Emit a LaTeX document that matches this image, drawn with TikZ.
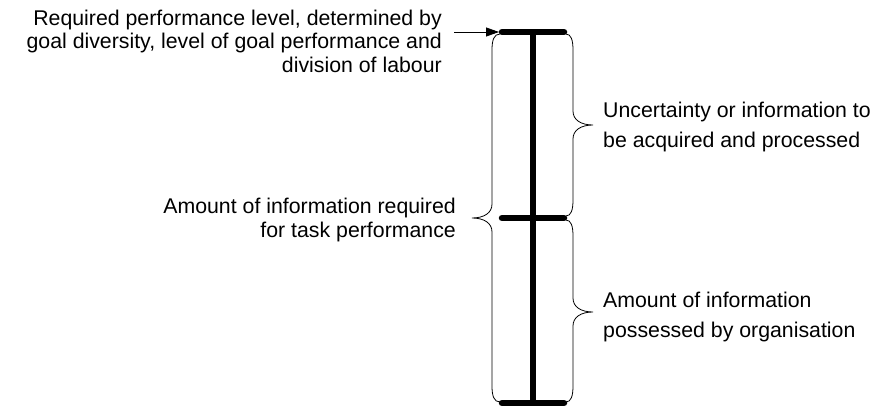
\documentclass[tikz,border=0pt]{standalone}
\usepackage{fontspec}
\setmainfont{Liberation Sans}
\usetikzlibrary{arrows.meta}
\begin{document}
\begin{tikzpicture}[x=1pt,y=-1pt,
  lbl/.style={inner sep=0pt},
  lblR/.style={lbl, align=left, anchor=base west},
  lblL/.style={lbl, align=right, anchor=base east},
  tickline/.style={line width=6.5pt, line cap=round},
  bar/.style={line width=6pt},
  brace/.style={line width=0.8pt},
  ptr/.style={line width=0.8pt, -{Triangle[length=13pt,width=9pt]}}]
\useasboundingbox (0,0) rectangle (887,407);

% levels on the scale
\coordinate (T) at (533,32);
\coordinate (M) at (533,218);
\coordinate (B) at (533,403);

% vertical scale and its three ticks
\draw[bar] (T) -- (B);
\draw[tickline] ([xshift=-31pt]T) -- ([xshift=31pt]T);
\draw[tickline] ([xshift=-31pt]M) -- ([xshift=31pt]M);
\draw[tickline] ([xshift=-31pt]B) -- ([xshift=31pt]B);

% pointer to the required level
\coordinate (A0) at (454,32);
\draw[ptr] (A0) -- ([xshift=-34pt]T);

% left brace over the whole scale
\draw[brace] (500,34) .. controls (494,34) and (492,40) .. (492,50)
  -- (492,204) .. controls (492,213) and (484,218) .. (472,218)
  .. controls (484,218) and (492,223) .. (492,232)
  -- (492,386) .. controls (492,396) and (494,402) .. (500,402);

% right brace, upper part
\draw[brace] (566,34) .. controls (571,34) and (573,40) .. (573,50)
  -- (573,111) .. controls (573,120) and (581,125) .. (593,125)
  .. controls (581,125) and (573,130) .. (573,139)
  -- (573,200) .. controls (573,210) and (571,216) .. (566,216);

% right brace, lower part
\draw[brace] (566,220) .. controls (571,220) and (573,226) .. (573,236)
  -- (573,298) .. controls (573,307) and (581,312) .. (593,312)
  .. controls (581,312) and (573,317) .. (573,326)
  -- (573,386) .. controls (573,396) and (571,402) .. (566,402);

% labels (anchored at the baseline of their last line)
\node[lblL, font=\fontsize{21.3}{23.5}\selectfont] (req) at (442,72)
  {Required performance level, determined by\\goal diversity, level of goal performance and\\division of labour};
\node[lblL, font=\fontsize{21.3}{24}\selectfont] (need) at (456,237)
  {Amount of information required\\for task performance};
\node[lblR, font=\fontsize{21.3}{30}\selectfont] (unc) at (603,147)
  {Uncertainty or information to\\be acquired and processed};
\node[lblR, font=\fontsize{21.3}{30}\selectfont] (have) at (603,337)
  {Amount of information\\possessed by organisation};
\end{tikzpicture}
\end{document}
